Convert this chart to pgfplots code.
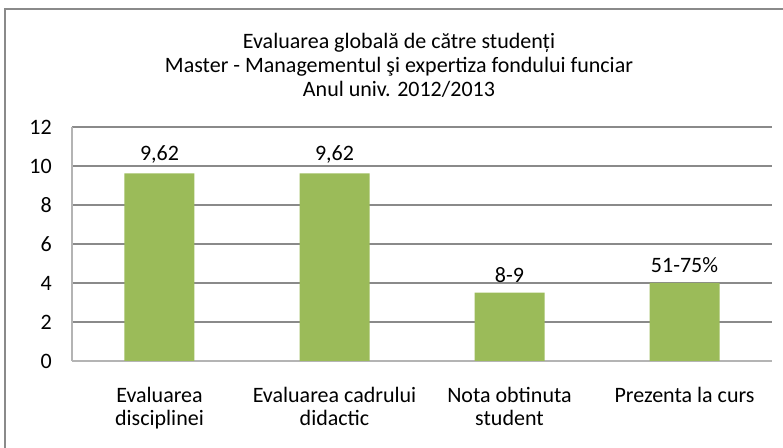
\documentclass[border=0pt]{standalone}
\usepackage{fontspec}
\setmainfont{Carlito}
\usepackage{pgfplots}
\usepackage{pgfplotstable}
\pgfplotsset{compat=1.18}

\definecolor{bargreen}{HTML}{9BBB59}
\definecolor{gridgray}{HTML}{8A8A8A}
\definecolor{axisgray}{HTML}{B4B4B4}

% x position, value, label shown above the bar
\pgfplotstableread{
x y label
0 9.62 9,62
1 9.62 9,62
2 3.5 8-9
3 4.0 51-75\%
}\evaldata

\begin{document}
\begin{tikzpicture}[x=0.75pt, y=0.75pt]
\useasboundingbox (0,0) rectangle (783,447);
% chart frame (only left and top visible in the crop)
\draw[gridgray, line width=1.5pt] (5,-20) -- (5,438) -- (820,438);

\node[align=center, font=\fontsize{16.5}{18}\selectfont] at (399,382)
  {Evaluarea globală de către studenți\\
   Master - Managementul şi expertiza fondului funciar\\
   Anul univ. 2012/2013};

\begin{axis}[
    at={(54pt,64.5pt)}, anchor=south west,
    scale only axis,
    width=525pt, height=175.5pt,
    xmin=-0.5, xmax=3.5,
    ymin=0, ymax=12,
    ytick={0,2,...,12},
    xtick={0,1,2,3},
    xticklabels={{Evaluarea\\disciplinei},{Evaluarea cadrului\\didactic},{Nota obtinuta\\student},{Prezenta la curs}},
    axis lines*=left,
    axis line style={axisgray, line width=1.5pt, -},
    major tick length=0pt,
    ymajorgrids,
    grid style={gridgray, line width=1.1pt},
    /pgf/number format/assume math mode=true,
    tick label style={font=\fontsize{16.5}{17.5}\selectfont, text=black},
    yticklabel style={anchor=east, inner sep=0pt, xshift=-15pt},
    xticklabel style={align=center, anchor=north, inner sep=0pt, yshift=-19.5pt},
    ybar, bar width=52.5pt,
    point meta=explicit symbolic,
    nodes near coords,
    every node near coord/.append style={font=\fontsize{16.5}{18}\selectfont, text=black, anchor=south, yshift=4pt},
]
\addplot[fill=bargreen, draw=none] table[x=x, y=y, meta=label] {\evaldata};
\end{axis}
\end{tikzpicture}
\end{document}
